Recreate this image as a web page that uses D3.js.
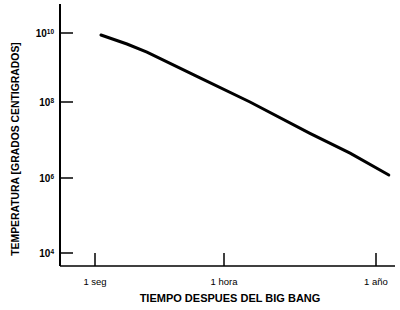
<!DOCTYPE html>
<html><head><meta charset="utf-8">
<script src="https://cdn.jsdelivr.net/npm/d3@7"></script>
<style>body{margin:0;background:#fff}svg{display:block}text{font-family:"Liberation Sans",Arial,sans-serif}</style>
</head><body>
<svg id="c" width="400" height="310"></svg>
<script>
// time after big bang (seconds)
const times = [1.46, 7.6, 27, 785, 1.7e4, 6.1e5, 6.7e6, 8.2e7];
// temperature (degrees)
const temps = [8.75e9, 4.8e9, 2.8e9, 5e8, 1e8, 1.5e7, 4.5e6, 1.2e6];
const xTickValues = [1, 3600, 3.156e7];
const xTickLabels = ["1 seg", "1 hora", "1 año"];
const yTickValues = [1e4, 1e6, 1e8, 1e10];
const yTickExps = ["4", "6", "8", "10"];
const xTitle = "TIEMPO DESPUES DEL BIG BANG";
const yTitle = "TEMPERATURA [GRADOS CENTIGRADOS]";

const svg = d3.select("#c");
const x = d3.scaleLog().domain([0.1, 1, 3600, 3.156e7, 1.3e8]).range([60, 95, 224, 376, 395]);
const y = d3.scaleLog().domain([1e4, 1e6, 1e8, 1e10, 1e12]).range([253, 178, 102, 33, -36]);
const x0 = 60, yb = 266;

// axes lines
svg.append("line").attr("x1", x0).attr("x2", x0).attr("y1", 4).attr("y2", yb)
  .attr("stroke", "#000").attr("stroke-width", 2);
svg.append("line").attr("x1", x0).attr("x2", 395).attr("y1", yb).attr("y2", yb)
  .attr("stroke", "#000").attr("stroke-width", 1.5);

// y ticks
const yt = svg.append("g");
yTickValues.forEach((v, i) => {
  yt.append("line").attr("x1", x0).attr("x2", x0 + 13).attr("y1", y(v)).attr("y2", y(v))
    .attr("stroke", "#000").attr("stroke-width", 1.5);
  const t = yt.append("text").attr("x", 54).attr("y", y(v) + 4).attr("text-anchor", "end")
    .attr("font-size", 10).attr("font-weight", "bold");
  t.append("tspan").text("10");
  t.append("tspan").attr("font-size", 6.5).attr("dy", -3.5).text(yTickExps[i]);
});

// x ticks
xTickValues.forEach((v, i) => {
  svg.append("line").attr("x1", x(v)).attr("x2", x(v)).attr("y1", yb).attr("y2", yb - 13)
    .attr("stroke", "#000").attr("stroke-width", 1.5);
  svg.append("text").attr("x", x(v)).attr("y", 285).attr("text-anchor", "middle")
    .attr("font-size", 9.5).text(xTickLabels[i]);
});

// titles
svg.append("text").attr("x", 230).attr("y", 302).attr("text-anchor", "middle")
  .attr("font-size", 11).attr("font-weight", "bold").text(xTitle);
svg.append("text").attr("transform", "translate(19,149) rotate(-90)").attr("text-anchor", "middle")
  .attr("font-size", 10.4).attr("font-weight", "bold").text(yTitle);

// curve
const data = times.map((t, i) => ({t, T: temps[i]}));
svg.append("path").datum(data)
  .attr("d", d3.line().x(d => x(d.t)).y(d => y(d.T)))
  .attr("fill", "none").attr("stroke", "#000").attr("stroke-width", 3).attr("stroke-linecap", "round");
</script>
</body></html>
